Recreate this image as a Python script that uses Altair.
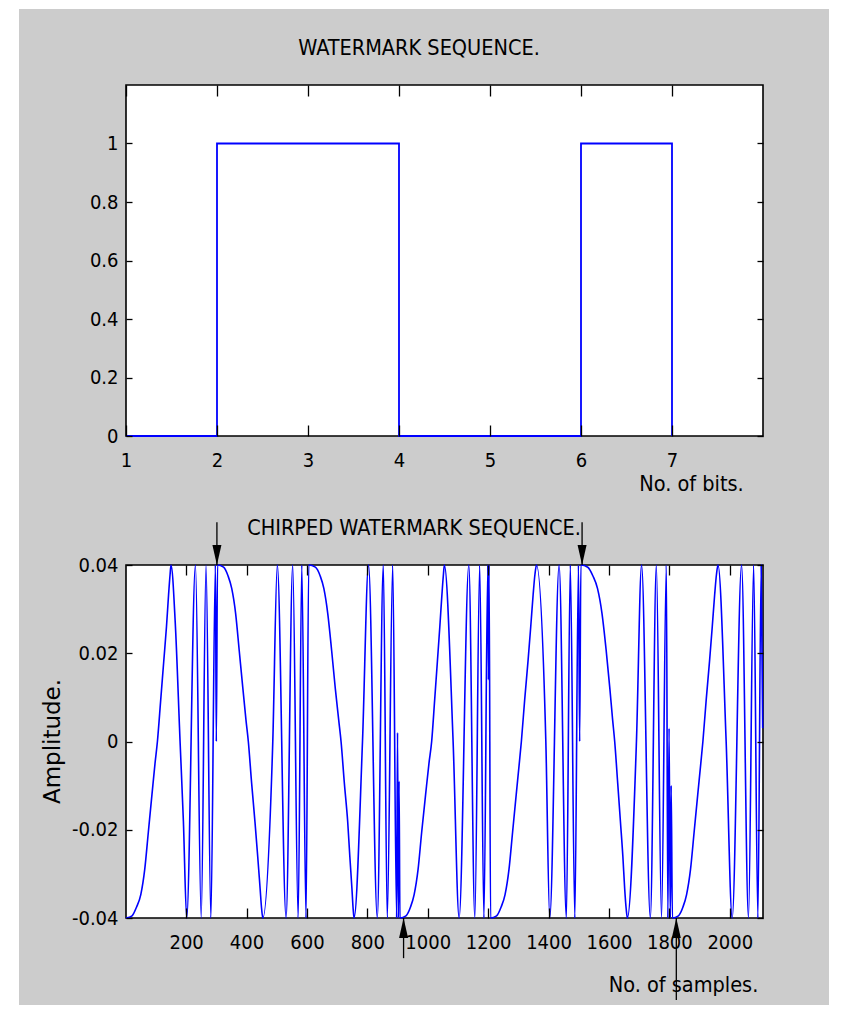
import altair as alt
import pandas as pd

# ---------------- data ----------------
bit_index = [1, 2, 3, 4, 5, 6, 7]
bit_value = [0, 1, 1, 0, 0, 1, 0]

# (sample, amplitude) key points of the chirped sequence
chirp_points = [
    # bit 1 (0)
    (1, -0.04), (21, -0.0395), (36, -0.0375), (50, -0.0347), (63, -0.029), (75, -0.0205),
    (87, -0.012), (97, -0.005), (105, 0), (116, 0.0095), (126, 0.0182), (135, 0.026),
    (142, 0.0333), (147, 0.0379), (150, 0.04),
    (164, 0.027), (180, 0), (191, -0.018), (202, -0.04), (231, 0.04), (250, -0.04),
    (266, 0.04), (282, -0.04), (297, 0.04), (300, 0.0),
    # bit 2 (1)
    (304, 0.04), (324, 0.0395), (339, 0.0375), (351, 0.0347), (364, 0.029), (376, 0.0205),
    (388, 0.012), (398, 0.005), (406, 0), (417, -0.0095), (428, -0.0182), (437, -0.026),
    (445, -0.0333), (450, -0.0379), (454, -0.04),
    (487, 0), (502, 0.04), (531, -0.04), (553, 0.04), (571, -0.04), (583, 0.04), (597, -0.04),
    # bit 3 (1)
    (606, 0.04), (628, 0.0395), (644, 0.0375), (656, 0.0347), (669, 0.029), (682, 0.0205),
    (694, 0.012), (705, 0.005), (713, 0), (724, -0.0095), (735, -0.0182), (742, -0.026),
    (749, -0.0333), (753, -0.0379), (756, -0.04),
    (784, 0), (804, 0.04), (833, -0.04), (853, 0.04), (866, -0.04), (884, 0.04), (897, -0.04),
    (900, 0.002), (903, -0.04), (905, -0.009),
    # bit 4 (0)
    (908, -0.04), (928, -0.0395), (943, -0.0375), (955, -0.0347), (968, -0.029), (980, -0.0205),
    (993, -0.012), (1004, -0.005), (1013, 0), (1023, 0.0095), (1032, 0.0182), (1040, 0.026),
    (1047, 0.0333), (1052, 0.0379), (1055, 0.04),
    (1084, 0), (1104, -0.04), (1136, 0.04), (1156, -0.04), (1172, 0.04), (1186, -0.04),
    (1199, 0.04), (1201, 0.014), (1203, 0.04),
    # bit 5 (0)
    (1208, -0.04), (1228, -0.0395), (1243, -0.0375), (1256, -0.0347), (1269, -0.029), (1281, -0.0205),
    (1293, -0.012), (1303, -0.005), (1310, 0), (1321, 0.0095), (1332, 0.0182), (1341, 0.026),
    (1349, 0.0333), (1355, 0.0379), (1360, 0.04),
    (1391, 0), (1404, -0.04), (1435, 0.04), (1459, -0.04), (1472, 0.04), (1487, -0.04),
    (1499, 0.04), (1503, 0.0),
    # bit 6 (1)
    (1507, 0.04), (1530, 0.0395), (1547, 0.0375), (1562, 0.0347), (1577, 0.029), (1591, 0.0205),
    (1603, 0.012), (1612, 0.005), (1619, 0), (1629, -0.0095), (1638, -0.0182), (1646, -0.026),
    (1652, -0.0333), (1657, -0.0379), (1661, -0.04),
    (1691, 0), (1708, 0.04), (1737, -0.04), (1757, 0.04), (1774, -0.04), (1790, 0.04),
    (1795, -0.04), (1799, 0.003), (1803, -0.04), (1806, -0.01),
    # bit 7 (0)
    (1810, -0.04), (1830, -0.0395), (1845, -0.0375), (1857, -0.0347), (1870, -0.029), (1882, -0.0205),
    (1894, -0.012), (1904, -0.005), (1911, 0), (1922, 0.0095), (1933, 0.0182), (1942, 0.026),
    (1950, 0.0333), (1956, 0.0379), (1961, 0.04),
    (1988, 0), (2008, -0.04), (2039, 0.04), (2062, -0.04), (2079, 0.04), (2093, -0.04),
    (2104, 0.04), (2109, 0.003),
]
chirp_sample = [p[0] for p in chirp_points]
chirp_amp = [p[1] for p in chirp_points]

arrow_sample = [302, 1511, 920, 1823]
arrow_tip = [0.04, 0.04, -0.04, -0.04]
arrow_tail = [0.0497, 0.0497, -0.0491, -0.0586]
arrow_dir = ["down", "down", "up", "up"]

bit_ticks = [1, 2, 3, 4, 5, 6, 7]
bit_value_ticks = [0, 0.2, 0.4, 0.6, 0.8, 1]
sample_ticks = [200, 400, 600, 800, 1000, 1200, 1400, 1600, 1800, 2000]
amp_ticks = [-0.04, -0.02, 0, 0.02, 0.04]

title_top = "WATERMARK SEQUENCE."
title_bottom = "CHIRPED WATERMARK SEQUENCE."
xlabel_top = "No. of bits."
xlabel_bottom = "No. of samples."
ylabel_bottom = "Amplitude."

# ---------------- styling / layout ----------------
FONT = "DejaVu Sans Condensed, Liberation Sans, sans-serif"
LABEL_SIZE = 20
TEXT_SIZE = 21.5
GRAY = "#cccccc"
BLUE = "#0000ff"
W, H1, H2, GAP = 637, 351, 353, 129

one = pd.DataFrame({"k": [0]})
bits = pd.DataFrame({"bit": bit_index, "value": bit_value})
chirp = pd.DataFrame({"sample": chirp_sample, "amp": chirp_amp})
arrows = pd.DataFrame({"sample": arrow_sample, "tip": arrow_tip, "tail": arrow_tail, "dir": arrow_dir})


def lab_axis(vals, orient, pad, **kw):
    return alt.Axis(values=vals, orient=orient, domain=False, ticks=False, tickSize=0, grid=False,
                    labelFont=FONT, labelFontSize=LABEL_SIZE, labelColor="black", labelPadding=pad,
                    labelFlush=False, labelOverlap=False, labelExpr="'' + datum.value",
                    titleFontWeight="normal", titleColor="black", titleAlign="center",
                    titleBaseline="middle", zindex=1, **kw)


def tick_axis(vals, orient, size):
    return alt.Axis(values=vals, orient=orient, labels=False, domain=False, grid=False,
                    ticks=True, tickSize=size, tickColor="black", tickWidth=1.3,
                    offset=-size, title=None, zindex=1)


def frame():
    return alt.Chart(one).mark_rect(fill="white", stroke="black", strokeWidth=1.6).encode(
        x=alt.value(0), x2=alt.value("width"), y=alt.value(0), y2=alt.value("height"))


def title_text(txt, xpos):
    return alt.Chart(one).mark_text(font=FONT, fontSize=TEXT_SIZE, color="black", align="center",
                                    baseline="middle").encode(
        x=alt.value(xpos), y=alt.value(-36), text=alt.value(txt))


# ---------------- top panel ----------------
xs1 = alt.Scale(domain=[1, 8], nice=False, zero=False)
ys1 = alt.Scale(domain=[0, 1.2], nice=False, zero=False)

bg = alt.Chart(one).mark_rect(color=GRAY, clip=False).encode(
    x=alt.value(-107), x2=alt.value(703), y=alt.value(-76), y2=alt.value(920))

step = alt.Chart(bits).mark_line(color=BLUE, strokeWidth=1.8, interpolate="step-after").encode(
    x=alt.X("bit:Q", scale=xs1,
            axis=lab_axis(bit_ticks, "bottom", 14, title=xlabel_top, titleFont=FONT,
                          titleFontSize=TEXT_SIZE, titleX=565, titleY=48)),
    y=alt.Y("value:Q", scale=ys1, axis=lab_axis(bit_value_ticks, "left", 8, title=None)),
)
tk1a = alt.Chart(bits).mark_line(opacity=0).encode(
    x=alt.X("bit:Q", scale=xs1, axis=tick_axis(bit_ticks, "bottom", 11)),
    y=alt.Y("value:Q", scale=ys1, axis=tick_axis(bit_value_ticks, "left", 6)),
)
tk1b = alt.Chart(bits).mark_line(opacity=0).encode(
    x=alt.X("bit:Q", scale=xs1, axis=tick_axis(bit_ticks, "top", 11)),
    y=alt.Y("value:Q", scale=ys1, axis=tick_axis(bit_value_ticks, "right", 6)),
)
p1 = alt.layer(bg, frame(), step, tk1a, tk1b, title_text(title_top, 293)).resolve_axis(
    x="independent", y="independent").properties(width=W, height=H1)

# ---------------- bottom panel ----------------
xs2 = alt.Scale(domain=[1, 2110], nice=False, zero=False)
ys2 = alt.Scale(domain=[-0.04, 0.04], nice=False, zero=False)

line2 = alt.Chart(chirp).mark_line(color=BLUE, strokeWidth=1.6, interpolate="monotone").encode(
    x=alt.X("sample:Q", scale=xs2,
            axis=lab_axis(sample_ticks, "bottom", 14, title=xlabel_bottom, titleFont=FONT,
                          titleFontSize=TEXT_SIZE, titleX=557, titleY=67)),
    y=alt.Y("amp:Q", scale=ys2,
            axis=lab_axis(amp_ticks, "left", 8, title=ylabel_bottom, titleFont="DejaVu Sans",
                          titleFontSize=23, titleX=-74, titleY=176, titleAngle=270)),
)
tk2a = alt.Chart(chirp).mark_line(opacity=0).encode(
    x=alt.X("sample:Q", scale=xs2, axis=tick_axis(sample_ticks, "bottom", 10)),
    y=alt.Y("amp:Q", scale=ys2, axis=tick_axis(amp_ticks, "left", 6)),
)
tk2b = alt.Chart(chirp).mark_line(opacity=0).encode(
    x=alt.X("sample:Q", scale=xs2, axis=tick_axis(sample_ticks, "top", 10)),
    y=alt.Y("amp:Q", scale=ys2, axis=tick_axis(amp_ticks, "right", 6)),
)
arrow_rule = alt.Chart(arrows).mark_rule(color="black", strokeWidth=1.3).encode(
    x=alt.X("sample:Q", scale=xs2, axis=None),
    y=alt.Y("tip:Q", scale=ys2, axis=None),
    y2="tail:Q",
)
head_down = alt.Chart(arrows).transform_filter("datum.dir == 'down'").mark_point(
    shape="M0,0L-0.45,-2L0.45,-2Z", size=400, filled=True, color="black", opacity=1).encode(
    x=alt.X("sample:Q", scale=xs2, axis=None),
    y=alt.Y("tip:Q", scale=ys2, axis=None),
)
head_up = alt.Chart(arrows).transform_filter("datum.dir == 'up'").mark_point(
    shape="M0,0L-0.45,2L0.45,2Z", size=400, filled=True, color="black", opacity=1).encode(
    x=alt.X("sample:Q", scale=xs2, axis=None),
    y=alt.Y("tip:Q", scale=ys2, axis=None),
)
p2 = alt.layer(frame(), line2, arrow_rule, head_down, head_up, tk2a, tk2b,
               title_text(title_bottom, 288)).resolve_axis(
    x="independent", y="independent").properties(width=W, height=H2)

chart = alt.vconcat(p1, p2, spacing=GAP, bounds="flush").properties(
    padding={"left": 19, "top": 9, "right": 14, "bottom": 18},
    background="white",
).configure_view(stroke="transparent", strokeWidth=0)

chart.save("out.html", embed_options={"renderer": "svg", "actions": False})
